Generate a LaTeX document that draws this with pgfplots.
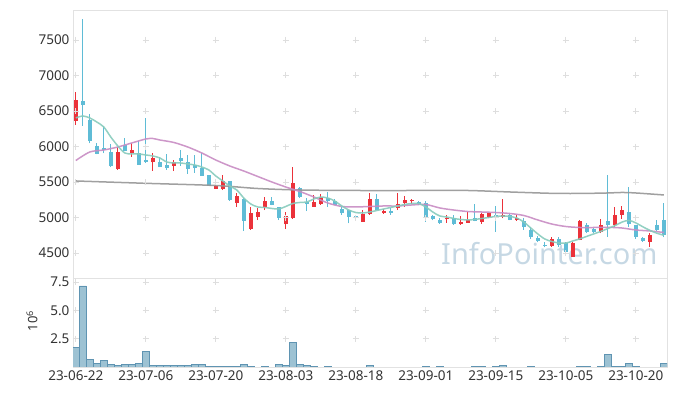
\documentclass[border=0pt]{standalone}
\usepackage{pgfplots}
\pgfplotsset{compat=1.18}
\usepackage{pgfplotstable}
\usepackage{fontspec}
\setmainfont{Noto Sans}
\definecolor{upc}{RGB}{235,50,58}
\definecolor{dnc}{RGB}{95,188,214}
\definecolor{ma5}{RGB}{135,203,188}
\definecolor{ma20}{RGB}{200,140,195}
\definecolor{ma120}{RGB}{150,150,150}
\definecolor{volf}{RGB}{157,194,211}
\definecolor{vold}{RGB}{95,148,178}
\definecolor{framec}{RGB}{226,226,226}
\definecolor{gridc}{RGB}{222,222,222}
\definecolor{wm}{RGB}{198,216,228}
\definecolor{tickc}{RGB}{51,51,51}

\pgfplotstableread{
i O H L C
0 6365 6765 6300 6655
6 5680 6000 5675 5925
8 5910 6055 5855 5950
11 5775 5915 5660 5840
14 5730 5810 5655 5780
20 5405 5505 5400 5445
21 5400 5600 5385 5510
23 5209 5342 5153 5303
25 4843 5144 4830 5060
26 5012 5135 4965 5078
27 5153 5294 5106 5233
30 4909 5078 4843 5022
31 4990 5708 4985 5491
34 5153 5317 5150 5223
35 5187 5330 5180 5294
41 4942 5106 4940 5050
42 5046 5341 5040 5257
44 5068 5120 5050 5096
46 5139 5340 5106 5195
47 5209 5300 5150 5251
48 5228 5260 5190 5246
53 4975 5035 4930 4990
55 4905 5022 4900 4933
56 4928 5083 4928 4965
58 4942 5060 4910 5050
59 5012 5070 4990 5068
61 5012 5257 4990 5036
63 4961 5036 4955 4998
68 4604 4730 4590 4698
71 4449 4650 4445 4646
72 4684 4960 4680 4956
75 4801 4975 4780 4895
77 4895 5144 4870 5036
78 5036 5160 4980 5106
82 4660 4780 4590 4754
}\upt

\pgfplotstableread{
i O H L C
1 6640 7800 6290 6590
2 6375 6455 6045 6080
3 6005 6055 5890 5895
4 5980 6290 5905 5950
5 5925 6035 5710 5730
7 6015 6115 5935 5940
9 5905 6080 5740 5745
10 5810 6400 5770 5785
12 5780 5850 5705 5710
13 5745 5895 5670 5695
15 5840 5950 5730 5795
16 5780 5875 5615 5690
17 5745 5875 5630 5695
18 5700 5905 5585 5590
19 5600 5605 5445 5450
22 5515 5520 5240 5247
24 5261 5270 4811 4956
28 5237 5294 5170 5177
29 5144 5153 4965 4998
32 5412 5435 5271 5294
33 5223 5271 5092 5191
36 5280 5356 5153 5233
37 5237 5261 5170 5177
38 5120 5153 5036 5060
39 5106 5106 4919 5012
40 5022 5040 4980 4990
43 5257 5330 5106 5106
45 5096 5130 5040 5068
49 5215 5240 5180 5195
50 5209 5230 4940 5004
51 5022 5030 4960 4975
52 4965 5000 4915 4928
54 4994 5030 4900 4909
57 4990 5190 4945 4956
60 5040 5160 4800 5025
62 5036 5050 4960 4965
64 4951 5000 4830 4871
65 4825 4860 4700 4730
66 4708 4740 4650 4670
67 4614 4660 4580 4600
69 4694 4730 4590 4614
70 4637 4660 4500 4519
73 4895 4930 4780 4801
74 4839 4850 4780 4792
76 4951 5600 4730 4895
79 5083 5430 4860 4909
80 4895 4900 4700 4730
81 4708 4730 4660 4675
83 4895 4960 4810 4825
84 4965 5200 4720 4754
}\dnt

\pgfplotstableread{
i V
0 1.74
1 7.15
2 0.68
3 0.33
4 0.59
5 0.24
6 0.15
7 0.24
8 0.24
9 0.33
10 1.41
11 0.15
12 0.15
13 0.15
14 0.15
15 0.15
16 0.15
17 0.24
18 0.24
19 0.06
20 0.06
21 0.06
22 0.06
23 0.06
24 0.24
25 0.06
27 0.06
29 0.24
30 0.15
31 2.20
32 0.24
33 0.15
34 0.06
36 0.06
42 0.15
50 0.06
52 0.06
57 0.06
58 0.06
60 0.06
61 0.15
65 0.06
72 0.06
73 0.06
75 0.06
76 1.12
77 0.06
78 0.06
79 0.33
80 0.06
84 0.33
}\volt

\begin{document}
\begin{tikzpicture}[x=1pt,y=1pt]
\useasboundingbox (0,0) rectangle (677,396);
\node[anchor=base west, inner sep=0pt, text=wm, font=\fontsize{29}{29}\selectfont] at (441,131) {InfoPointer.com};
\node[rotate=90, inner sep=0pt, text=tickc, font=\fontsize{13}{13}\selectfont] at (32,75) {10\textsuperscript{6}};

\begin{axis}[
  at={(73pt,118pt)}, anchor=south west, scale only axis,
  width=594pt, height=268pt,
  xmin=-0.4, xmax=84.46, ymin=4149, ymax=7922,
  axis line style={draw=framec, line width=0.8pt},
  xtick={0,10,...,80}, xticklabels={},
  ytick={4500,5000,...,7500},
  major tick length=0pt,
  yticklabel style={font=\fontsize{13.5}{13.5}\selectfont, text=tickc},
  /pgf/number format/1000 sep={},
  /pgf/number format/assume math mode=true,
]
\pgfplotsinvokeforeach{0,10,...,80}{
  \addplot[only marks, mark=+, mark size=3pt, gridc, line width=0.7pt, forget plot]
    coordinates {(#1,4500)(#1,5000)(#1,5500)(#1,6000)(#1,6500)(#1,7000)(#1,7500)};
}
% wicks
\addplot[draw=none, no marks, forget plot,
  error bars/.cd, y dir=plus, y explicit, error mark=none,
  error bar style={draw=upc, line width=1.1pt}]
  table[x=i, y=L, y error expr={\thisrow{H}-\thisrow{L}}] {\upt};
\addplot[draw=none, no marks, forget plot,
  error bars/.cd, y dir=plus, y explicit, error mark=none,
  error bar style={draw=dnc, line width=1.1pt}]
  table[x=i, y=L, y error expr={\thisrow{H}-\thisrow{L}}] {\dnt};
% bodies
\addplot[draw=none, no marks, forget plot,
  error bars/.cd, y dir=plus, y explicit, error mark=none,
  error bar style={draw=upc, line width=4.4pt}]
  table[x=i, y=O, y error expr={\thisrow{C}-\thisrow{O}}] {\upt};
\addplot[draw=none, no marks, forget plot,
  error bars/.cd, y dir=plus, y explicit, error mark=none,
  error bar style={draw=dnc, line width=4.4pt}]
  table[x=i, y=C, y error expr={\thisrow{O}-\thisrow{C}}] {\dnt};
% moving averages
\addplot[ma120, line width=1.5pt, smooth, no marks, opacity=0.9] coordinates {
(0,5515)(10,5482)(20,5451)(26,5409)(32,5388)(40,5381)(50,5381)(56,5381)(62,5360)(68,5341)(72,5339)(76,5346)(78,5353)(80,5346)(84,5318)};
\addplot[ma20, line width=1.5pt, smooth, no marks, opacity=0.9] coordinates {
(0,5803)(2,5923)(4,5951)(6,5993)(8,6050)(10,6106)(11,6113)(12,6092)(14,6057)(16,5993)(18,5909)(20,5810)(22,5726)(24,5655)(26,5578)(28,5501)(30,5430)(32,5367)(34,5290)(36,5205)(38,5156)(40,5149)(42,5156)(44,5163)(46,5163)(48,5177)(50,5184)(52,5135)(54,5106)(56,5085)(58,5078)(60,5071)(62,5057)(64,5029)(66,4966)(68,4909)(70,4874)(72,4860)(74,4860)(76,4862)(78,4853)(80,4825)(82,4811)(84,4790)};
\addplot[ma5, line width=1.5pt, smooth, no marks, opacity=0.9] coordinates {
(0,6402)(1,6430)(2,6402)(3,6345)(4,6275)(5,6134)(6,6008)(7,5909)(8,5895)(9,5895)(10,5881)(11,5867)(12,5839)(13,5782)(14,5768)(15,5768)(16,5754)(17,5740)(18,5712)(19,5670)(20,5585)(21,5515)(22,5444)(23,5388)(24,5275)(25,5191)(26,5149)(27,5142)(28,5128)(29,5121)(30,5156)(31,5198)(32,5212)(33,5219)(34,5261)(35,5289)(36,5275)(37,5233)(38,5163)(39,5106)(40,5071)(41,5064)(42,5078)(43,5099)(44,5121)(45,5142)(46,5163)(47,5184)(48,5198)(49,5198)(50,5149)(51,5078)(52,5022)(53,5008)(54,4987)(55,4973)(56,4966)(57,4973)(58,4987)(59,5001)(60,5015)(61,5022)(62,5015)(63,4994)(64,4937)(65,4853)(66,4769)(67,4698)(68,4663)(69,4642)(70,4640)(71,4670)(72,4700)(73,4735)(74,4770)(75,4805)(76,4845)(77,4885)(78,4935)(79,4960)(80,4925)(81,4870)(82,4820)(83,4780)(84,4750)};
\end{axis}

\begin{axis}[
  at={(73pt,29pt)}, anchor=south west, scale only axis,
  width=594pt, height=89pt,
  xmin=-0.4, xmax=84.46, ymin=0, ymax=7.85,
  axis line style={draw=framec, line width=0.8pt},
  xtick={0,10,...,80},
  xticklabels={23-06-22,23-07-06,23-07-20,23-08-03,23-08-18,23-09-01,23-09-15,23-10-05,23-10-20},
  ytick={2.5,5,7.5}, yticklabels={2.5,5.0,7.5},
  major tick length=0pt,
  xticklabel style={font=\fontsize{13.5}{13.5}\selectfont, text=tickc},
  yticklabel style={font=\fontsize{13.5}{13.5}\selectfont, text=tickc},
]
\pgfplotsinvokeforeach{0,10,...,80}{
  \addplot[only marks, mark=+, mark size=3pt, gridc, line width=0.7pt, forget plot]
    coordinates {(#1,2.5)(#1,5)(#1,7.5)};
}
\addplot[ybar, bar width=7pt, fill=volf, draw=vold, line width=0.6pt] table[x=i, y=V] {\volt};
\end{axis}
\end{tikzpicture}
\end{document}
